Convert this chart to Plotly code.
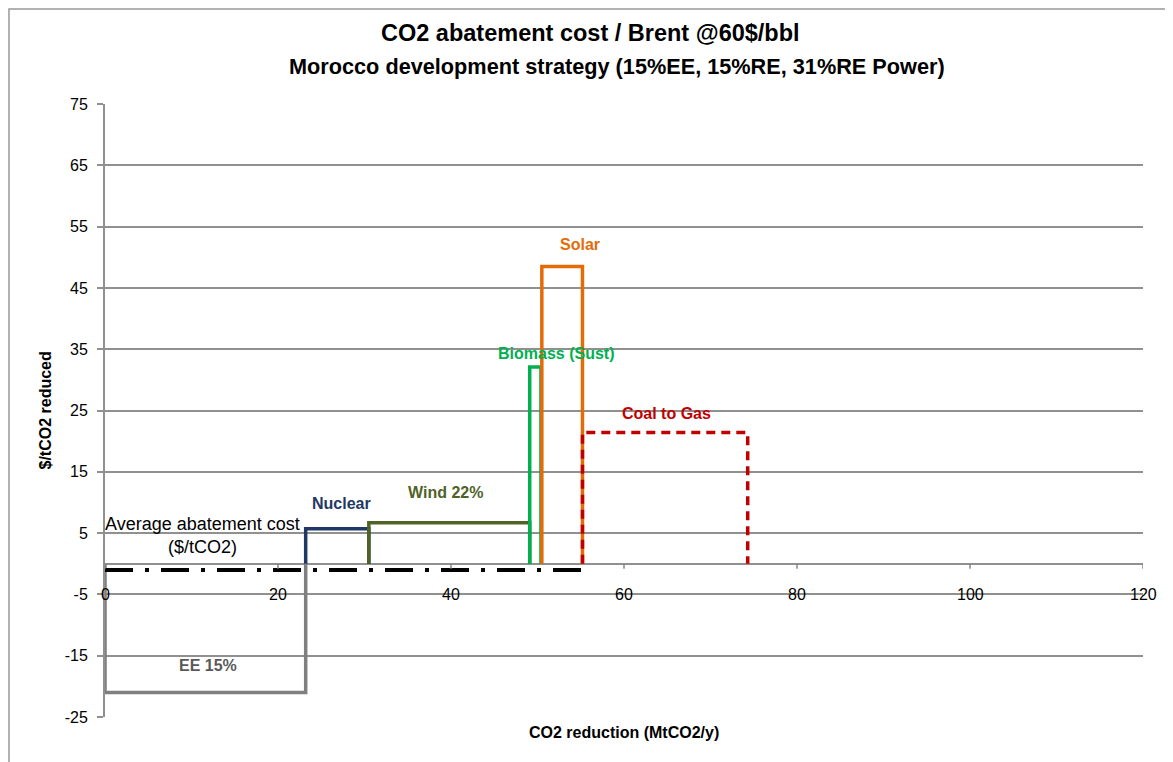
import plotly.graph_objects as go

# ---- data ----
options = ["EE 15%", "Nuclear", "Wind 22%", "Biomass (Sust)", "Solar", "Coal to Gas"]
x_start = [0.0, 23.2, 30.5, 49.1, 50.5, 55.2]
x_end = [23.2, 30.5, 49.1, 50.4, 55.2, 74.3]
cost = [-21.0, 5.7, 6.7, 32.1, 48.5, 21.4]
colors = ["#7F7F7F", "#1F3864", "#4F6228", "#00B050", "#E36C09", "#C00000"]
dashes = ["solid", "solid", "solid", "solid", "solid", "9px,6px"]
label_x = [11.9, 27.3, 39.4, 52.1, 54.9, 64.9]
label_y = [-16.6, 9.8, 11.7, 34.3, 52.0, 24.5]
label_colors = ["#595959", "#1F3864", "#4F6228", "#00B050", "#E36C09", "#C00000"]

avg_cost = -1.0
avg_x_range = [0.0, 55.2]

x_ticks = [0, 20, 40, 60, 80, 100, 120]
y_ticks = [-25, -15, -5, 5, 15, 25, 35, 45, 55, 65, 75]

title_1 = "CO2 abatement cost / Brent @60$/bbl"
title_2 = "Morocco development strategy (15%EE, 15%RE, 31%RE Power)"

FONT = "Liberation Sans, Arial, sans-serif"
TXT = "#000000"

fig = go.Figure()

for name, x0, x1, c, col, d in zip(options, x_start, x_end, cost, colors, dashes):
    fig.add_trace(go.Scatter(
        x=[x0, x0, x1, x1], y=[0, c, c, 0], mode="lines",
        line=dict(color=col, width=3.5, dash=d),
        name=name, showlegend=False, hoverinfo="skip"))

fig.add_trace(go.Scatter(
    x=avg_x_range, y=[avg_cost, avg_cost], mode="lines",
    line=dict(color="black", width=4, dash="28px,12px,4px,12px"),
    showlegend=False, hoverinfo="skip"))

annotations = []
for name, lx, ly, lc in zip(options, label_x, label_y, label_colors):
    annotations.append(dict(x=lx, y=ly, text="<b>%s</b>" % name, showarrow=False,
                            font=dict(size=16, color=lc, family=FONT)))

annotations.append(dict(x=11.3, y=4.6, text="Average abatement cost<br>($/tCO2)", showarrow=False,
                        font=dict(size=18, color="black", family=FONT)))

for t in x_ticks:
    annotations.append(dict(x=t, y=-5, text=str(t), showarrow=False, yanchor="middle",
                            font=dict(size=16, color=TXT, family=FONT)))

# titles
annotations.append(dict(xref="paper", yref="paper", x=0.468, y=1.1158, yanchor="middle",
                        text="<b>%s</b>" % title_1, showarrow=False,
                        font=dict(size=23.5, color="black", family=FONT)))
annotations.append(dict(xref="paper", yref="paper", x=0.493, y=1.0604, yanchor="middle",
                        text="<b>%s</b>" % title_2, showarrow=False,
                        font=dict(size=21.7, color="black", family=FONT)))
annotations.append(dict(xref="paper", yref="paper", x=0.5, y=-0.026, yanchor="middle",
                        text="<b>CO2 reduction (MtCO2/y)</b>", showarrow=False,
                        font=dict(size=16, color="black", family=FONT)))
annotations.append(dict(xref="paper", yref="paper", x=-0.0578, y=0.5, xanchor="center",
                        yanchor="middle", textangle=-90,
                        text="<b>$/tCO2 reduced</b>", showarrow=False,
                        font=dict(size=16, color="black", family=FONT)))

shapes = []
for t in x_ticks:
    shapes.append(dict(type="line", x0=t, x1=t, y0=0, y1=-0.8, xref="x", yref="y",
                       line=dict(color="#868686", width=1.5)))
shapes.append(dict(type="rect", xref="paper", yref="paper", x0=-0.0925, x1=1.05,
                   y0=-0.2, y1=1.155, line=dict(color="#999999", width=1.5),
                   fillcolor="rgba(0,0,0,0)", layer="above"))

fig.update_layout(
    width=1173, height=762,
    margin=dict(l=97, r=38, t=96, b=53, autoexpand=False),
    paper_bgcolor="white", plot_bgcolor="white",
    xaxis=dict(range=[0, 120], showgrid=False, zeroline=False, showticklabels=False,
               showline=False, ticks=""),
    yaxis=dict(range=[-25, 75], tickmode="array", tickvals=y_ticks,
               ticktext=[str(v) for v in y_ticks],
               showgrid=True, gridcolor="#909090", gridwidth=1.5,
               zeroline=True, zerolinecolor="#909090", zerolinewidth=2,
               showline=True, linecolor="#909090", linewidth=2,
               ticks="outside", ticklen=6, tickcolor="#909090", tickwidth=1.5,
               ticklabelstandoff=6,
               tickfont=dict(size=16, color=TXT, family=FONT)),
    annotations=annotations, shapes=shapes,
)

fig.write_html("out.html")
